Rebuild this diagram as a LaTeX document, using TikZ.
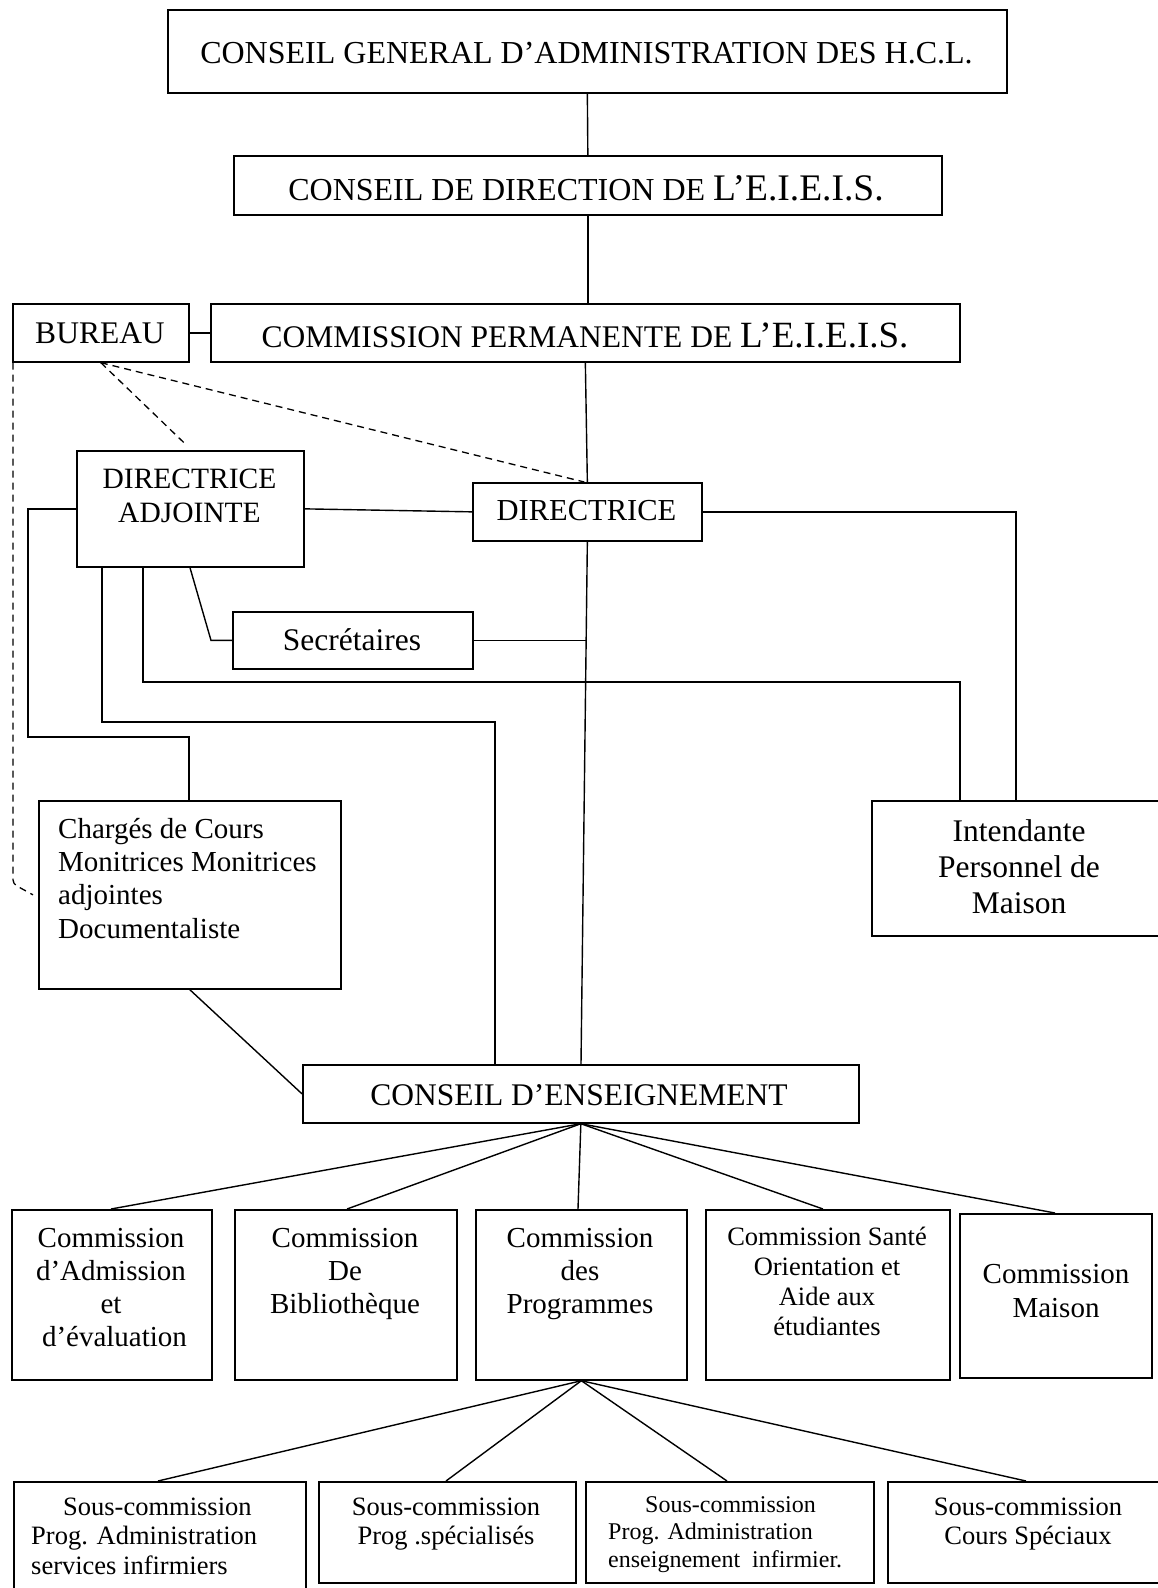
\documentclass[tikz,border=0pt]{standalone}
\usepackage{fontspec}
\setmainfont{Liberation Serif}
\usetikzlibrary{calc}
\newcommand{\fs}[2]{\fontsize{#1}{#2}\selectfont}
\newcommand{\cl}[1]{\begin{tabular}[t]{@{}c@{}}#1\end{tabular}}
\newcommand{\lft}[1]{\begin{tabular}[t]{@{}l@{}}#1\end{tabular}}
\begin{document}
\begin{tikzpicture}[x=1pt,y=-1pt,
  box/.style={draw, line width=1.7pt, inner sep=0pt, anchor=north west},
  txt/.style={inner sep=0pt, anchor=base},
  txtl/.style={inner sep=0pt, anchor=base west},
  ln/.style={line width=1.4pt},
  dsh/.style={line width=1.3pt, dash pattern=on 7pt off 5pt}]
\fill[white] (0,0) rectangle (1157,1588);
\useasboundingbox (0,0) rectangle (1157,1588);

% boxes
\node[box, minimum width=839pt, minimum height=83pt] (b1) at (167,9) {};
\node[box, minimum width=708pt, minimum height=59pt] (b2) at (233,155) {};
\node[box, minimum width=176pt, minimum height=58pt] (b3) at (12,303) {};
\node[box, minimum width=749pt, minimum height=58pt] (b4) at (210,303) {};
\node[box, minimum width=227pt, minimum height=116pt] (da) at (76,450) {};
\node[box, minimum width=229pt, minimum height=58pt] (dir) at (472,482) {};
\node[box, minimum width=240pt, minimum height=57pt] (sec) at (232,611) {};
\node[box, minimum width=302pt, minimum height=188pt] (chg) at (38,800) {};
\node[box, minimum width=310pt, minimum height=135pt] (int) at (871,800) {};
\node[box, minimum width=556pt, minimum height=58pt] (ce) at (302,1064) {};
\node[box, minimum width=200pt, minimum height=170pt] (c1) at (11,1209) {};
\node[box, minimum width=222pt, minimum height=170pt] (c2) at (234,1209) {};
\node[box, minimum width=211pt, minimum height=170pt] (c3) at (475,1209) {};
\node[box, minimum width=244pt, minimum height=170pt] (c4) at (705,1209) {};
\node[box, minimum width=192pt, minimum height=164pt] (c5) at (959,1213) {};
\node[box, minimum width=292pt, minimum height=130pt] (s1) at (13,1481) {};
\node[box, minimum width=257pt, minimum height=101pt] (s2) at (318,1481) {};
\node[box, minimum width=288pt, minimum height=101pt] (s3) at (585,1481) {};
\node[box, minimum width=290pt, minimum height=101pt] (s4) at (887,1481) {};

% texts
\node[txt] (t1) at (586.5,63) {\fs{32}{38}CONSEIL GENERAL D’ADMINISTRATION DES H.C.L.};
\node[txt] (t2) at (586,200) {\fs{32}{38}CONSEIL DE DIRECTION DE {\fs{37.5}{40}L’E.I.E.I.S.}};
\node[txt] (t3) at (100,343) {\fs{31.5}{36}BUREAU};
\node[txt] (t4) at (585,347) {\fs{31.5}{36}COMMISSION PERMANENTE DE {\fs{37}{40}L’E.I.E.I.S.}};
\node[txt] (t5) at (189.5,488) {\fs{29.5}{34}\cl{DIRECTRICE\\ADJOINTE}};
\node[txt] (t6) at (586.5,520) {\fs{30.5}{35}DIRECTRICE};
\node[txt] (t7) at (352,650) {\fs{31.5}{36}Secrétaires};
\node[txtl] (t8) at (58,838) {\fs{29}{33.4}\lft{Chargés de Cours\\Monitrices Monitrices\\adjointes\\Documentaliste}};
\node[txt] (t9) at (1019,841) {\fs{31.5}{36}\cl{Intendante\\Personnel de\\Maison}};
\node[txt] (t10) at (579,1105) {\fs{31.5}{36}CONSEIL D’ENSEIGNEMENT};
\node[txt] (t11) at (111,1247) {\fs{29}{33.3}\cl{Commission\\d’Admission\\et\\\hspace{7pt}d’évaluation}};
\node[txt] (t12) at (345,1247) {\fs{29}{33.3}\cl{Commission\\De\\Bibliothèque}};
\node[txt] (t13) at (580,1247) {\fs{29}{33.3}\cl{Commission\\des\\Programmes}};
\node[txt] (t14) at (827,1245) {\fs{26.5}{30}\cl{Commission Santé\\Orientation et\\Aide aux\\étudiantes}};
\node[txt] (t15) at (1056,1283) {\fs{29}{34}\cl{Commission\\Maison}};
\node[txtl] (t16) at (31,1515) {\fs{26.5}{29.5}\lft{\hspace{32pt}Sous-commission\\Prog. Administration\\services infirmiers}};
\node[txt] (t17) at (446,1515) {\fs{26.5}{29.5}\cl{Sous-commission\\Prog .spécialisés}};
\node[txtl] (t18) at (608,1512) {\fs{24}{27.5}\lft{\hspace{37pt}Sous-commission\\Prog. Administration\\enseignement\ \ infirmier.}};
\node[txt] (t19) at (1028,1515) {\fs{26.5}{29.5}\cl{Sous-commission\\Cours Spéciaux}};

% connectors
\draw[ln] (b1.south) -- (b2.north);
\draw[ln] (b2.south) -- (b2.south |- b4.north);
\draw[ln] (b3.east) -- (b4.west);
\draw[ln] (b4.south) -- (dir.north);
\draw[dsh] (b3.south) -- ($(da.north)+(-4,-5)$);
\draw[dsh] (b3.south) -- ($(dir.north)+(-3,0)$);
\draw[dsh, rounded corners=4pt] ($(b3.south west)+(1,0)$) -- ($(chg.west)+(-25,-11)$) -- ($(chg.west)+(-5,0)$);
\draw[ln] (da.east) -- (dir.west);
\draw[ln] (dir.east) -| ($(int.north west)+(145,0)$);
\draw[ln] (da.west) -- ++(-48,0) |- ($(chg.north west)+(151,-63)$) -- ($(chg.north west)+(151,0)$);
\draw[ln] ($(da.south west)+(26,0)$) |- ($(ce.north west)+(193,-342)$) -- ($(ce.north west)+(193,0)$);
\draw[ln] ($(da.south west)+(67,0)$) |- ($(int.north west)+(89,-118)$) -- ($(int.north west)+(89,0)$);
\draw[ln] ($(da.south west)+(114,0)$) -- ($(sec.west)+(-21,0)$) -- (sec.west);
\draw[ln] (sec.east) -- (sec.east -| dir.south);
\draw[ln] (dir.south) -- ($(ce.north west)+(279,0)$);
\draw[ln] (chg.south) -- (ce.west);
\draw[ln] (ce.south) -- ($(c1.north west)+(100,0)$);
\draw[ln] (ce.south) -- ($(c2.north west)+(113,0)$);
\draw[ln] (ce.south) -- ($(c3.north west)+(103,0)$);
\draw[ln] (ce.south) -- ($(c4.north west)+(118,0)$);
\draw[ln] (ce.south) -- ($(c5.north west)+(96,0)$);
\draw[ln] (c3.south) -- ($(s1.north west)+(145,0)$);
\draw[ln] (c3.south) -- ($(s2.north west)+(128,0)$);
\draw[ln] (c3.south) -- ($(s3.north west)+(142,0)$);
\draw[ln] (c3.south) -- ($(s4.north west)+(139,0)$);
\end{tikzpicture}
\end{document}
